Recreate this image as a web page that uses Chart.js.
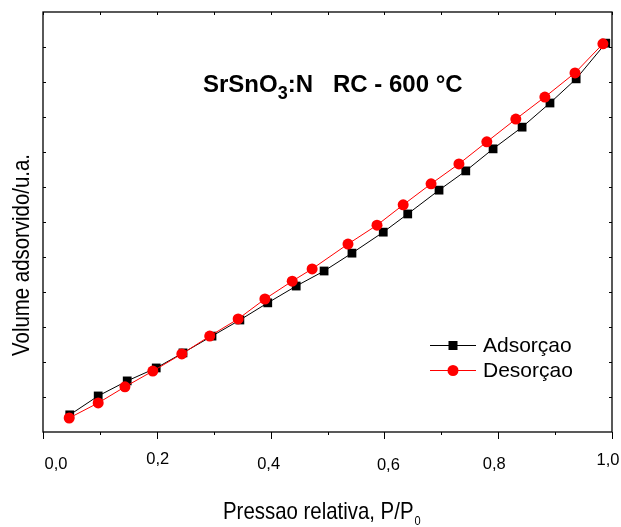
<!DOCTYPE html>
<html>
<head>
<meta charset="utf-8">
<title>Isoterma SrSnO3:N</title>
<script src="https://cdn.jsdelivr.net/npm/chart.js@4/dist/chart.umd.min.js"></script>
<style>
  html, body { margin: 0; padding: 0; background: #fff; }
  #wrap { width: 621px; height: 527px; }
</style>
</head>
<body>
<div id="wrap"><canvas id="isoChart" width="621" height="527"></canvas></div>
<script>
// ── DATA ──────────────────────────────────────────
// relative pressure P/P0 and adsorbed volume (arbitrary units)
const pressaoAds = [0.047, 0.097, 0.148, 0.199, 0.246, 0.297, 0.346, 0.395, 0.445, 0.494,
                    0.543, 0.598, 0.641, 0.696, 0.743, 0.791, 0.842, 0.891, 0.937, 0.989];
const volumeAds  = [4.9, 10.3, 14.6, 18.3, 22.6, 27.4, 32.0, 36.9, 41.7, 46.0,
                    51.1, 57.1, 62.3, 69.1, 74.6, 80.9, 87.1, 94.0, 100.9, 111.1];

const pressaoDes = [0.046, 0.097, 0.144, 0.193, 0.244, 0.293, 0.343, 0.390, 0.438, 0.473,
                    0.536, 0.587, 0.633, 0.682, 0.731, 0.780, 0.831, 0.882, 0.935, 0.984];
const volumeDes  = [4.0, 8.3, 12.9, 17.4, 22.3, 27.4, 32.3, 38.0, 43.1, 46.6,
                    53.7, 59.1, 64.9, 70.9, 76.6, 82.9, 89.4, 95.7, 102.6, 110.9];

const xTickValues = [0, 0.2, 0.4, 0.6, 0.8, 1.0];
const xTickLabels = ['0,0', '0,2', '0,4', '0,6', '0,8', '1,0'];

const seriesNames = ['Adsorçao', 'Desorçao'];

// ── STYLE ─────────────────────────────────────────
const FONT = "'Liberation Sans', Arial, sans-serif";
const NARROW = 0.85; // horizontal squeeze for the axis titles
// small per-label nudges of the x tick labels [dx, dy]
const xLabelNudge = [[13, 5], [1, 0], [-2, 5], [4, 6], [-4, 5], [-4, 1]];

function toPoints(xs, ys) {
  return xs.map((x, i) => ({ x, y: ys[i] }));
}

function fillNarrow(ctx, text, x, y) {
  ctx.save();
  ctx.translate(x, y);
  ctx.scale(NARROW, 1);
  ctx.fillText(text, 0, 0);
  ctx.restore();
}

// ── FRAME, TICKS, TEXT ────────────────────────────
const framePlugin = {
  id: 'originFrame',
  afterDatasetsDraw(chart) {
    const { ctx, chartArea: a, scales: { x, y } } = chart;
    ctx.save();
    ctx.strokeStyle = '#000';
    ctx.lineWidth = 1.3;
    ctx.strokeRect(a.left, a.top, a.right - a.left, a.bottom - a.top);

    ctx.lineWidth = 1;
    ctx.beginPath();
    // x ticks: outward on bottom, inward on top
    for (let i = 0; i <= 10; i++) {
      const px = Math.round(x.getPixelForValue(i / 10)) + 0.5;
      const len = i % 2 === 0 ? 7 : 3;
      ctx.moveTo(px, a.bottom);
      ctx.lineTo(px, a.bottom + len);
      ctx.moveTo(px, a.top);
      ctx.lineTo(px, a.top + 3);
    }
    // y ticks: inward on both sides
    for (let v = 10; v < 120; v += 10) {
      const py = Math.round(y.getPixelForValue(v)) + 0.5;
      ctx.moveTo(a.left, py);
      ctx.lineTo(a.left + 3, py);
      ctx.moveTo(a.right, py);
      ctx.lineTo(a.right - 3, py);
    }
    ctx.stroke();

    // x tick labels
    ctx.fillStyle = '#000';
    ctx.font = '16.5px ' + FONT;
    ctx.textAlign = 'center';
    ctx.textBaseline = 'alphabetic';
    xTickValues.forEach((v, i) => {
      const px = x.getPixelForValue(v) + xLabelNudge[i][0];
      ctx.fillText(xTickLabels[i], px, 464 + xLabelNudge[i][1]);
    });

    // x axis title with subscript
    ctx.textAlign = 'left';
    ctx.font = '24px ' + FONT;
    const xt = 'Pressao relativa, P/P';
    const xw = ctx.measureText(xt).width * NARROW;
    const xStart = 223;
    fillNarrow(ctx, xt, xStart, 519);
    ctx.font = '13px ' + FONT;
    fillNarrow(ctx, '0', xStart + xw + 1, 525);

    // y axis title
    ctx.save();
    ctx.translate(29, 255);
    ctx.rotate(-Math.PI / 2);
    ctx.scale(NARROW, 1);
    ctx.textAlign = 'center';
    ctx.font = '24px ' + FONT;
    ctx.fillText('Volume adsorvido/u.a.', 0, 0);
    ctx.restore();

    // sample label
    ctx.font = 'bold 24px ' + FONT;
    let tx = 203;
    const ty = 92;
    ctx.fillText('SrSnO', tx, ty);
    tx += ctx.measureText('SrSnO').width;
    ctx.font = 'bold 18px ' + FONT;
    ctx.fillText('3', tx, ty + 7);
    tx += ctx.measureText('3').width;
    ctx.font = 'bold 24px ' + FONT;
    ctx.fillText(':N   RC - 600 °C', tx, ty);

    // legend
    const rows = [345, 370];
    chart.data.datasets.forEach((ds, i) => {
      const cy = rows[i];
      ctx.strokeStyle = ds.borderColor;
      ctx.lineWidth = 1;
      ctx.beginPath();
      ctx.moveTo(430, cy + 0.5);
      ctx.lineTo(476, cy + 0.5);
      ctx.stroke();
      ctx.fillStyle = ds.pointBackgroundColor;
      if (ds.pointStyle === 'rect') {
        ctx.fillRect(448.5, cy - 4, 9, 9);
      } else {
        ctx.beginPath();
        ctx.arc(453, cy + 0.5, 5.5, 0, Math.PI * 2);
        ctx.fill();
      }
      ctx.fillStyle = '#000';
      ctx.font = '21px ' + FONT;
      ctx.fillText(ds.label, 483, cy + 7);
    });
    ctx.restore();
  }
};

// ── CHART ─────────────────────────────────────────
const ctx = document.getElementById('isoChart').getContext('2d');
new Chart(ctx, {
  type: 'scatter',
  data: {
    datasets: [
      {
        label: seriesNames[0],
        data: toPoints(pressaoAds, volumeAds),
        showLine: true,
        borderColor: '#000000',
        borderWidth: 1,
        pointStyle: 'rect',
        pointRadius: 6.2,
        pointBackgroundColor: '#000000',
        pointBorderColor: '#000000',
        pointBorderWidth: 0,
        order: 2,
      },
      {
        label: seriesNames[1],
        data: toPoints(pressaoDes, volumeDes),
        showLine: true,
        borderColor: '#ff0000',
        borderWidth: 1,
        pointStyle: 'circle',
        pointRadius: 5.5,
        pointBackgroundColor: '#ff0000',
        pointBorderColor: '#ff0000',
        pointBorderWidth: 0,
        order: 1,
      },
    ],
  },
  options: {
    responsive: false,
    devicePixelRatio: 1,
    animation: false,
    clip: false,
    layout: { padding: { left: 43, right: 9, top: 12, bottom: 95 } },
    plugins: {
      legend: { display: false },
      tooltip: { enabled: false },
    },
    scales: {
      x: { type: 'linear', min: 0, max: 1, display: false },
      y: { type: 'linear', min: 0, max: 120, display: false },
    },
  },
  plugins: [framePlugin],
});
</script>
</body>
</html>
